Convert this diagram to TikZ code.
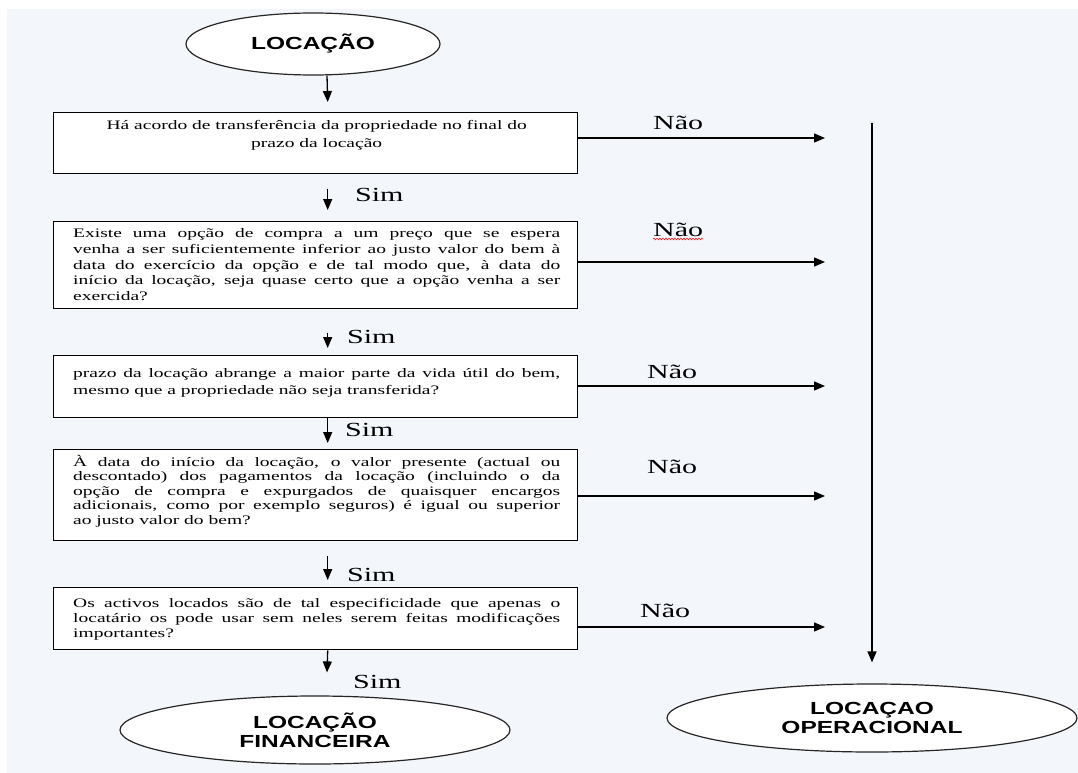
\documentclass[tikz,border=0pt]{standalone}
\usepackage{fontspec}
\usetikzlibrary{arrows.meta,shapes.geometric,decorations.pathmorphing}
\newfontfamily\boxfont[FakeStretch=1.5]{Liberation Serif}
\newfontfamily\ellfont[FakeStretch=1.4]{Liberation Sans}
\definecolor{bgblue}{RGB}{243,247,252}
\newcommand\jl[1]{\hbox to 487pt{#1}}
\newcommand\lastln[1]{\hbox to 487pt{#1\hfil}}
\newcommand\ctrln[1]{\hbox to 487pt{\hfil#1\hfil}}
\begin{document}
\begin{tikzpicture}[x=1pt,y=-1pt,
  box/.style={draw=black, line width=1.4pt, fill=white, minimum width=524pt, inner sep=0pt, anchor=north west},
  btext/.style={inner sep=0pt, anchor=base west},
  lab/.style={inner sep=0pt, anchor=base west, font=\boxfont\fontsize{20}{24}\selectfont},
  oval/.style={ellipse, draw=black!85, line width=1.2pt, fill=white, inner sep=0pt, align=center, font=\ellfont\bfseries\fontsize{17.5}{19}\selectfont},
  arr/.style={line width=1.3pt, -{Triangle[length=11pt,width=9pt]}},
]
\useasboundingbox (0,0) rectangle (1078,773);
\fill[white] (0,0) rectangle (1078,773);
\fill[bgblue] (7,9) rectangle (1078,773);

% start ellipse
\node[oval, minimum width=254pt, minimum height=62pt] (e0) at (313,44) {LOCAÇÃO};

% boxes
\node[box, minimum height=61pt] (b1) at (53,112) {};
\node[box, minimum height=87pt] (b2) at (53,221) {};
\node[box, minimum height=62pt] (b3) at (53,355) {};
\node[box, minimum height=91pt] (b4) at (53,449) {};
\node[box, minimum height=62pt] (b5) at (53,587) {};

% box texts: each line is a box as wide as the text column
\node[btext, font=\boxfont\fontsize{13}{18.3}\selectfont] (t1) at (73,129)
  {\vtop{\ctrln{Há acordo de transferência da propriedade no final do}
         \ctrln{prazo da locação}}};
\node[btext, font=\boxfont\fontsize{13}{15.8}\selectfont] (t2) at (73,237.5)
  {\vtop{\jl{Existe uma opção de compra a um preço que se espera}
         \jl{venha a ser suficientemente inferior ao justo valor do bem à}
         \jl{data do exercício da opção e de tal modo que, à data do}
         \jl{início da locação, seja quase certo que a opção venha a ser}
         \lastln{exercida?}}};
\node[btext, font=\boxfont\fontsize{13}{16.7}\selectfont] (t3) at (73,377.5)
  {\vtop{\jl{prazo da locação abrange a maior parte da vida útil do bem,}
         \lastln{mesmo que a propriedade não seja transferida?}}};
\node[btext, font=\boxfont\fontsize{13}{14.4}\selectfont] (t4) at (73,466.5)
  {\vtop{\jl{À data do início da locação, o valor presente (actual ou}
         \jl{descontado) dos pagamentos da locação (incluindo o da}
         \jl{opção de compra e expurgados de quaisquer encargos}
         \jl{adicionais, como por exemplo seguros) é igual ou superior}
         \lastln{ao justo valor do bem?}}};
\node[btext, font=\boxfont\fontsize{13}{15}\selectfont] (t5) at (73,607.5)
  {\vtop{\jl{Os activos locados são de tal especificidade que apenas o}
         \jl{locatário os pode usar sem neles serem feitas modificações}
         \lastln{importantes?}}};

% end ellipses
\node[oval, minimum width=390pt, minimum height=68pt] (e1) at (315,730) {LOCAÇÃO\\FINANCEIRA};
\node[oval, minimum width=410pt, minimum height=68pt] (e2) at (872,718) {LOCAÇAO\\OPERACIONAL};

% Sim arrows
\draw[arr] ([shift={(14,0)}]e0.south) -- ([shift={(12,-10)}]b1.north);
\draw[arr] ([shift={(12,15)}]b1.south) -- ([shift={(12,-11)}]b2.north);
\draw[arr] ([shift={(12,24)}]b2.south) -- ([shift={(12,-7)}]b3.north);
\draw[arr] ([shift={(12,0)}]b3.south) -- ([shift={(12,-6)}]b4.north);
\draw[arr] ([shift={(12,15)}]b4.south) -- ([shift={(12,-7)}]b5.north);
\draw[arr] ([shift={(12,0)}]b5.south) -- ([shift={(12,-23)}]e1.north);

% Sim labels
\node[lab] (s1) at (355,201.7) {Sim};
\node[lab] (s2) at (347,343) {Sim};
\node[lab] (s3) at (345,436.5) {Sim};
\node[lab] (s4) at (347,581.7) {Sim};
\node[lab] (s5) at (353,688) {Sim};

% Nao arrows
\coordinate (n1) at (825,138);
\coordinate (n2) at (825,262);
\coordinate (n3) at (825,386);
\coordinate (n4) at (825,496);
\coordinate (n5) at (825,627);
\draw[arr] ([yshift=-26pt]b1.north east) -- (n1);
\draw[arr] ([yshift=-41pt]b2.north east) -- (n2);
\draw[arr] ([yshift=-31pt]b3.north east) -- (n3);
\draw[arr] ([yshift=-47pt]b4.north east) -- (n4);
\draw[arr] ([yshift=-40pt]b5.north east) -- (n5);

% Nao labels
\node[lab] (m1) at (653,129) {Não};
\node[lab] (m2) at (653,236) {Não};
\node[lab] (m3) at (647,378) {Não};
\node[lab] (m4) at (647,473) {Não};
\node[lab] (m5) at (640,617) {Não};
\draw[red, line width=0.5pt, decorate, decoration={snake, amplitude=0.9pt, segment length=3pt}]
  ([yshift=-3pt]m2.base west) -- ([yshift=-3pt]m2.base east);

% vertical line to operational lease
\coordinate (vt) at (872,123);
\draw[arr] (vt) -- ([yshift=21pt]e2.north);
\end{tikzpicture}
\end{document}
